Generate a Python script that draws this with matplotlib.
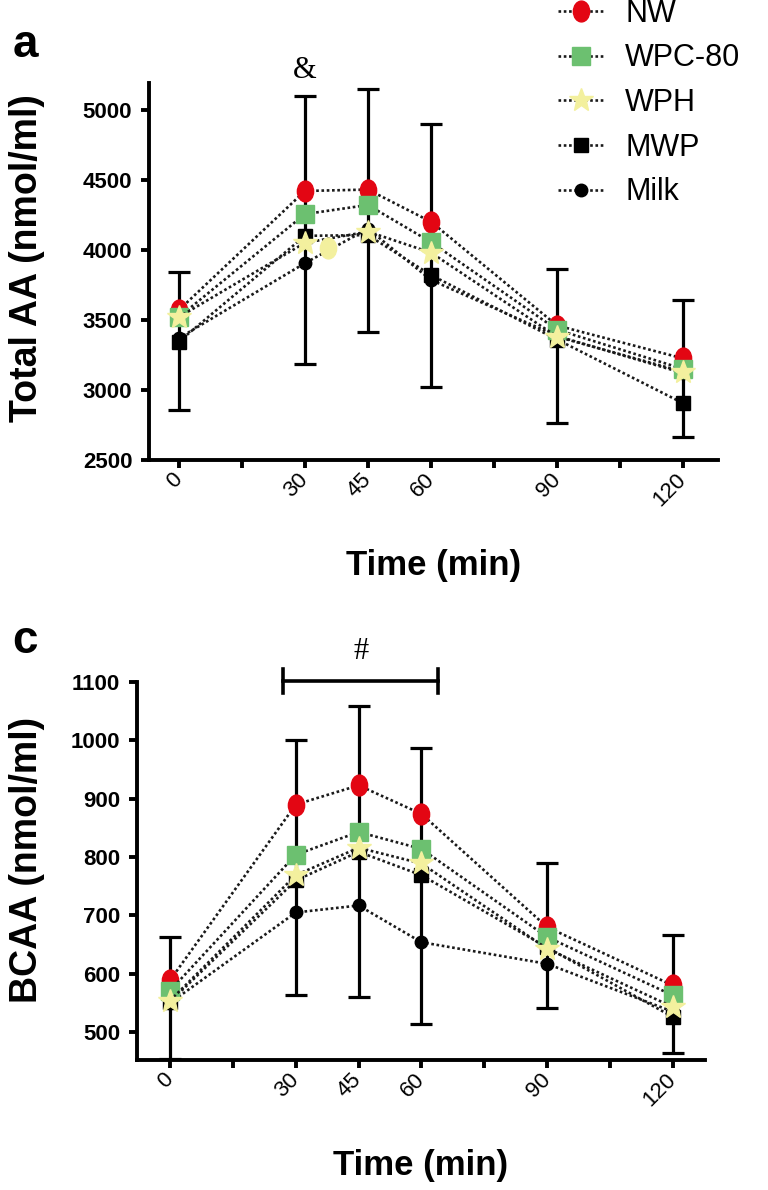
import matplotlib
matplotlib.use("Agg")
import matplotlib.pyplot as plt
from matplotlib.path import Path
import numpy as np

plt.rcParams['font.family'] = ['Liberation Sans', 'DejaVu Sans']

times = [0, 30, 45, 60, 90, 120]
tick_pos = [0, 15, 30, 45, 60, 75, 90, 105, 120]
tick_lab = ['0', '', '30', '45', '60', '', '90', '', '120']
groups = ['NW', 'WPC-80', 'WPH', 'MWP', 'Milk']

# panel a: total AA (nmol/ml)
aa_nw = [3570, 4420, 4430, 4200, 3460, 3225]
aa_wpc = [3520, 4255, 4320, 4055, 3430, 3150]
aa_wph = [3520, 4050, 4130, 3980, 3380, 3130]
aa_mwp = [3345, 4100, 4105, 3820, 3360, 2905]
aa_milk = [3370, 3905, 4150, 3785, 3385, 3120]
aa_err_hi = [3845, 5095, 5150, 4900, 3860, 3640]
aa_err_lo = [2855, 3185, 3415, 3020, 2765, 2665]
aa_extra_t = [35.5]
aa_extra = [4015]

# panel c: BCAA (nmol/ml)
bc_nw = [589, 890, 923, 874, 680, 580]
bc_wpc = [571, 804, 843, 814, 663, 563]
bc_wph = [554, 769, 816, 789, 643, 543]
bc_mwp = [552, 760, 809, 769, 645, 526]
bc_milk = [550, 705, 717, 654, 617, 535]
bc_err_hi = [663, 1000, 1059, 987, 790, 667]
bc_err_lo = [454, 563, 560, 514, 541, 464]
bc_sig_span = [27, 64]

circ = Path.unit_circle()
ellipse = Path(circ.vertices * [0.78, 1.0], circ.codes)

colors = ['#e30613', '#6cc070', '#f3f09e', 'black', 'black']
markers = [ellipse, 's', '*', 's', 'o']
msizes = [15, 12.5, 18, 9.5, 9]
draw_order = [4, 3, 0, 1, 2]

fig = plt.figure(figsize=(7.68, 11.9), dpi=100)
ax1 = fig.add_axes([0.194, 0.6134, 0.741, 0.3168])
ax2 = fig.add_axes([0.1784, 0.1092, 0.7396, 0.3176])


def draw(ax, series, hi, lo):
    top = np.array(series[0])
    ax.errorbar(times, top, yerr=[top - np.array(lo), np.array(hi) - top],
                fmt='none', ecolor='black', elinewidth=2.3, capsize=8,
                capthick=2.3, zorder=1)
    handles = {}
    for k, i in enumerate(draw_order):
        h, = ax.plot(times, series[i], ls=(0, (1, 1)), lw=1.9, color='#1a1a1a',
                     marker=markers[i], ms=msizes[i], mfc=colors[i],
                     mec=colors[i], zorder=2 + k, label=groups[i])
        handles[i] = h
    for s in ['top', 'right']:
        ax.spines[s].set_visible(False)
    for s in ['left', 'bottom']:
        ax.spines[s].set_linewidth(2.8)
    ax.set_xticks(tick_pos)
    ax.set_xticklabels(tick_lab, rotation=45, ha='right', va='center',
                       rotation_mode='anchor', fontsize=16)
    ax.tick_params(width=2.8, length=6, pad=6)
    ax.set_xlabel('Time (min)', fontsize=25, fontweight='bold')
    ax.xaxis.set_label_coords(0.5, -0.235)
    return [handles[i] for i in range(5)]


def style_yticks(ax, ticks):
    ax.set_yticks(ticks)
    for lab in ax.get_yticklabels():
        lab.set_fontsize(16)
        lab.set_fontweight('bold')


hs = draw(ax1, [aa_nw, aa_wpc, aa_wph, aa_mwp, aa_milk], aa_err_hi, aa_err_lo)
ax1.plot(aa_extra_t, aa_extra, ls='none', marker=ellipse, ms=15,
         mfc=colors[2], mec=colors[2], zorder=8)
ax1.set_xlim(-7.1, 128.3)
ax1.set_ylim(2500, 5190)
style_yticks(ax1, [2500, 3000, 3500, 4000, 4500, 5000])
ax1.set_ylabel('Total AA (nmol/ml)', fontsize=27, fontweight='bold')
ax1.yaxis.set_label_coords(-0.183, 0.535)
ax1.text(30, 5280, '&', family=['Liberation Serif'], fontsize=22,
         ha='center', va='center')

draw(ax2, [bc_nw, bc_wpc, bc_wph, bc_mwp, bc_milk], bc_err_hi, bc_err_lo)
ax2.set_xlim(-7.9, 127.7)
ax2.set_ylim(452, 1100)
style_yticks(ax2, [500, 600, 700, 800, 900, 1000, 1100])
ax2.set_ylabel('BCAA (nmol/ml)', fontsize=27, fontweight='bold')
ax2.yaxis.set_label_coords(-0.162, 0.53)
ax2.plot(bc_sig_span, [1102, 1102], color='black', lw=2.6, clip_on=False)
for xs in bc_sig_span:
    ax2.plot([xs, xs], [1082, 1122], color='black', lw=2.6, clip_on=False)
ax2.text(sum(bc_sig_span) / 2, 1152, '#', family=['Liberation Serif'],
         fontsize=22, ha='center', va='center')

fig.text(0.016, 1 - 45 / 1190, 'a', fontsize=33, fontweight='bold', va='center')
fig.text(0.016, 1 - 641 / 1190, 'c', fontsize=33, fontweight='bold', va='center')

fig.legend(hs, groups, loc='upper left', bbox_to_anchor=(558 / 768, 1.001),
           frameon=False, fontsize=22, handlelength=1.5, handletextpad=0.7,
           labelspacing=0.48, borderpad=0, borderaxespad=0, numpoints=1)

fig.savefig('out.png', dpi=100)
